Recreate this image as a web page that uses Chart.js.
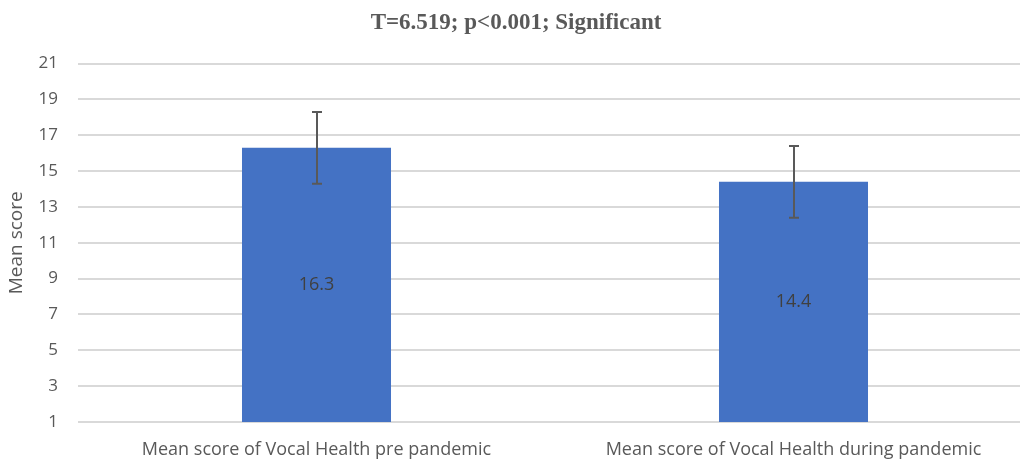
<!DOCTYPE html>
<html>
<head>
<meta charset="utf-8">
<script src="https://cdn.jsdelivr.net/npm/chart.js@4/dist/chart.umd.min.js"></script>
<style>
  html, body { margin: 0; padding: 0; background: #ffffff; overflow: hidden; }
  #wrap { width: 1020px; height: 459px; overflow: hidden; }
  #c { display: block; }
</style>
</head>
<body>
<div id="wrap"><canvas id="c" width="1032" height="459"></canvas></div>
<script>
// Group labels, means and their error margins
const categories = ['Mean score of Vocal Health pre pandemic', 'Mean score of Vocal Health during pandemic'];
const meanScores = [16.3, 14.4];
const errorMargins = [2, 2];
const yTicks = [1, 3, 5, 7, 9, 11, 13, 15, 17, 19, 21];

const axisFont = "'Open Sans', 'DejaVu Sans', sans-serif";

// Draws symmetric error bars (whiskers with caps) on each bar
const errorBarPlugin = {
  id: 'errorBars',
  afterDatasetsDraw(chart) {
    const ctx = chart.ctx;
    const meta = chart.getDatasetMeta(0);
    const y = chart.scales.y;
    ctx.save();
    ctx.strokeStyle = '#595959';
    ctx.lineWidth = 2;
    meta.data.forEach((bar, i) => {
      const v = meanScores[i];
      const e = errorMargins[i];
      const x = Math.round(bar.x);
      const yTop = y.getPixelForValue(v + e);
      const yBot = y.getPixelForValue(v - e);
      const cap = 5;
      ctx.beginPath();
      ctx.moveTo(x, yTop); ctx.lineTo(x, yBot);
      ctx.moveTo(x - cap, yTop); ctx.lineTo(x + cap, yTop);
      ctx.moveTo(x - cap, yBot); ctx.lineTo(x + cap, yBot);
      ctx.stroke();
    });
    ctx.restore();
  }
};

// Writes each mean value halfway up its visible bar
const valueLabelPlugin = {
  id: 'valueLabels',
  afterDatasetsDraw(chart) {
    const ctx = chart.ctx;
    const meta = chart.getDatasetMeta(0);
    const y = chart.scales.y;
    const floor = y.getPixelForValue(y.min);
    ctx.save();
    ctx.font = "18px " + axisFont;
    ctx.fillStyle = '#404040';
    ctx.textAlign = 'center';
    ctx.textBaseline = 'middle';
    meta.data.forEach((bar, i) => {
      const mid = (bar.y + floor) / 2;
      ctx.fillText(String(meanScores[i]), bar.x, mid);
    });
    ctx.restore();
  }
};

new Chart(document.getElementById('c'), {
  type: 'bar',
  data: {
    labels: categories,
    datasets: [{
      data: meanScores,
      backgroundColor: '#4472C4',
      borderWidth: 0,
      categoryPercentage: 1,
      barPercentage: 0.3124
    }]
  },
  options: {
    responsive: false,
    animation: false,
    layout: { padding: { left: 0, right: 0, top: 1, bottom: 0 } },
    plugins: {
      legend: { display: false },
      tooltip: { enabled: false },
      title: {
        display: true,
        text: 'T=6.519; p<0.001; Significant',
        color: '#595959',
        font: { family: "'Liberation Serif', 'Times New Roman', serif", size: 23, weight: 'bold' },
        padding: { top: 8, bottom: 27 }
      }
    },
    scales: {
      x: {
        afterFit(scale) { scale.height = 37; },
        grid: { display: false, drawTicks: false },
        border: { display: false },
        ticks: { color: '#595959', font: { family: axisFont, size: 18 }, padding: 17, maxRotation: 0 }
      },
      y: {
        min: 1,
        max: 21,
        afterBuildTicks(scale) { scale.ticks = yTicks.map(v => ({ value: v })); },
        afterFit(scale) { scale.width = 78; },
        grid: { color: '#d9d9d9', lineWidth: 2, drawTicks: false },
        border: { display: false },
        ticks: { color: '#595959', font: { family: axisFont, size: 17 }, padding: 20 },
        title: {
          display: true,
          text: 'Mean score',
          color: '#595959',
          font: { family: axisFont, size: 19 },
          padding: { top: 5, bottom: 0 }
        }
      }
    }
  },
  plugins: [errorBarPlugin, valueLabelPlugin]
});
</script>
</body>
</html>
